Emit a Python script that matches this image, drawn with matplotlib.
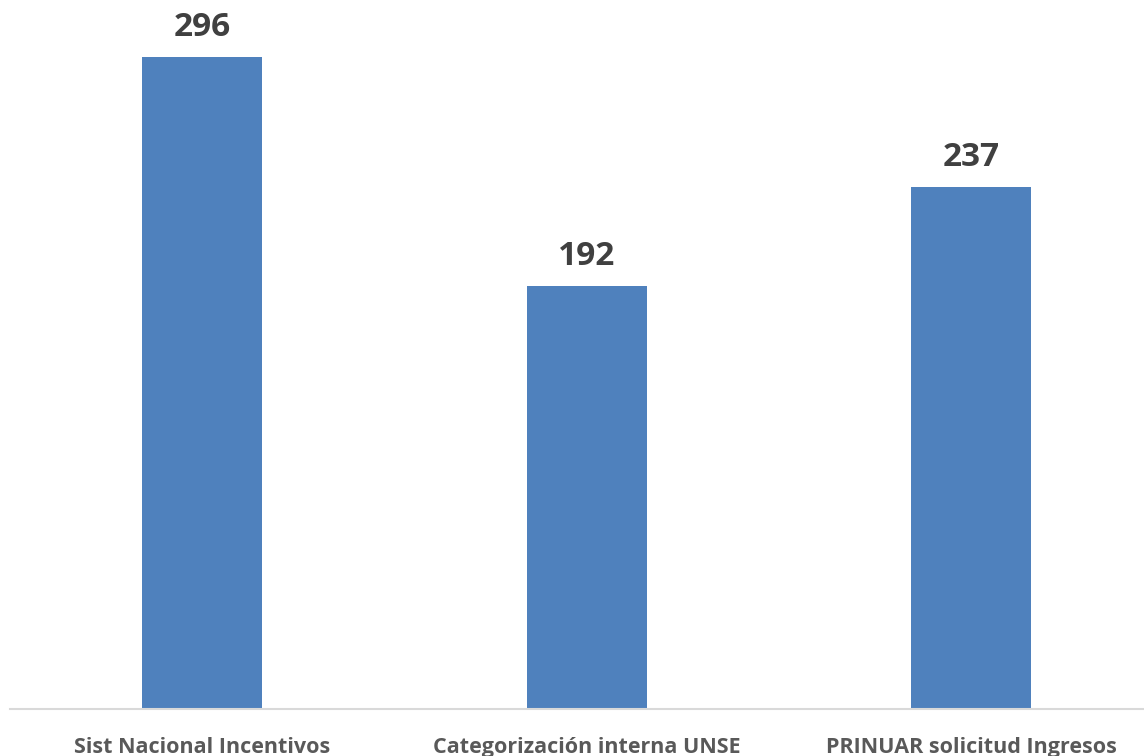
import matplotlib.pyplot as plt

categories = ["Sist Nacional Incentivos", "Categorización interna UNSE", "PRINUAR solicitud Ingresos"]
values = [296, 192, 237]

plt.rcParams["font.family"] = ["Open Sans", "DejaVu Sans"]

fig = plt.figure(figsize=(11.44, 7.56), dpi=100)
ax = fig.add_axes([10 / 1144, 1 - 709 / 756, 1 - 10 / 1144, 709 / 756])

x = range(len(categories))
ax.bar(x, values, width=0.312, color="#4F81BD")

for i, v in zip(x, values):
    ax.annotate(str(v), (i, v), xytext=(0, 15), textcoords="offset points",
                ha="center", va="baseline", fontsize=24, fontweight="bold", color="#404040")

for i, c in zip(x, categories):
    ax.annotate(c, (i, 0), xytext=(0, -31.5), textcoords="offset points",
                ha="center", va="baseline", fontsize=15.5, fontweight="bold", color="#595959",
                annotation_clip=False)

ax.set_xlim(-0.5, 2.45)
ax.set_ylim(0, 322)
ax.set_xticks([])
ax.set_yticks([])
for s in ["top", "right", "left"]:
    ax.spines[s].set_visible(False)
ax.spines["bottom"].set_color("#D9D9D9")
ax.spines["bottom"].set_linewidth(1.5)
ax.patch.set_visible(False)

fig.savefig("out.png", dpi=100)
